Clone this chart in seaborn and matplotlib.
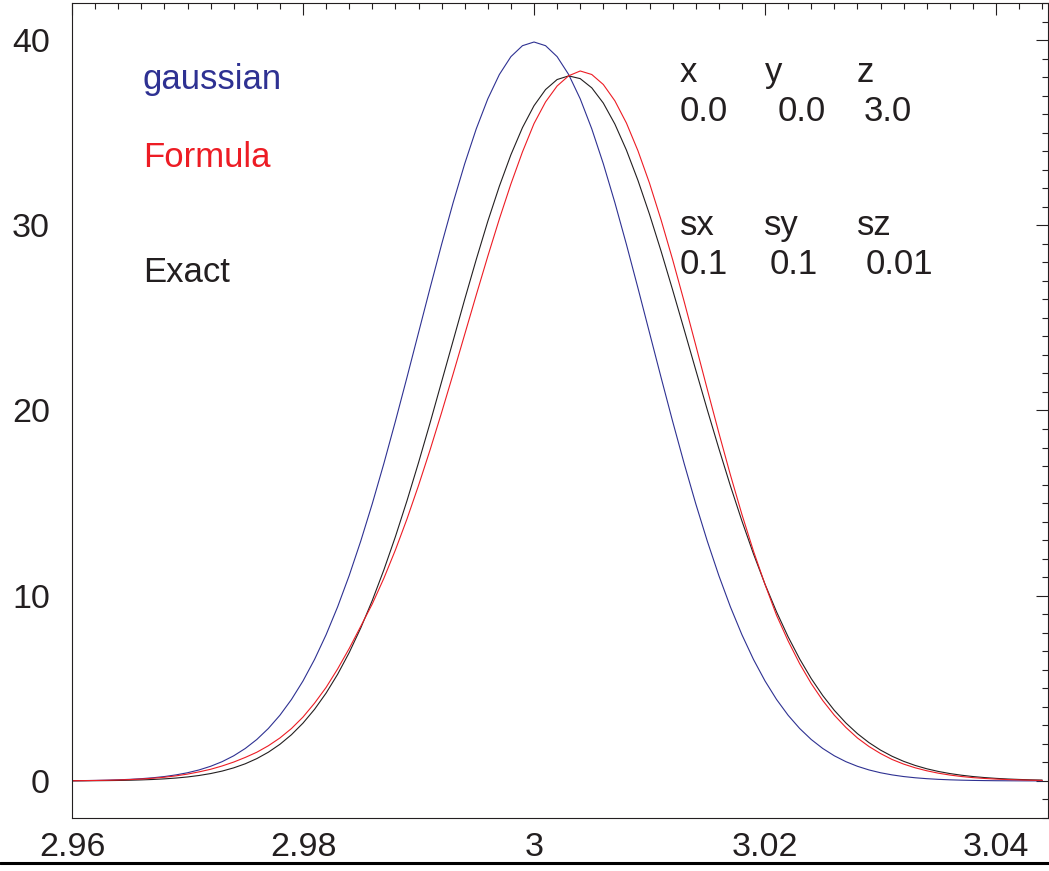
import matplotlib
matplotlib.use("Agg")
import matplotlib.pyplot as plt
import seaborn as sns
import pandas as pd
from matplotlib.ticker import FixedLocator, MultipleLocator
from matplotlib.lines import Line2D

# ---------------- data ----------------
x_vals = [2.960, 2.961, 2.962, 2.963, 2.964, 2.965, 2.966, 2.967, 2.968, 2.969,
          2.970, 2.971, 2.972, 2.973, 2.974, 2.975, 2.976, 2.977, 2.978, 2.979,
          2.980, 2.981, 2.982, 2.983, 2.984, 2.985, 2.986, 2.987, 2.988, 2.989,
          2.990, 2.991, 2.992, 2.993, 2.994, 2.995, 2.996, 2.997, 2.998, 2.999,
          3.000, 3.001, 3.002, 3.003, 3.004, 3.005, 3.006, 3.007, 3.008, 3.009,
          3.010, 3.011, 3.012, 3.013, 3.014, 3.015, 3.016, 3.017, 3.018, 3.019,
          3.020, 3.021, 3.022, 3.023, 3.024, 3.025, 3.026, 3.027, 3.028, 3.029,
          3.030, 3.031, 3.032, 3.033, 3.034, 3.035, 3.036, 3.037, 3.038, 3.039,
          3.040, 3.041, 3.042, 3.043, 3.044]

gaussian = [0.013, 0.020, 0.029, 0.043, 0.061, 0.087, 0.123, 0.172, 0.238, 0.327,
            0.443, 0.595, 0.792, 1.042, 1.358, 1.753, 2.239, 2.833, 3.547, 4.398,
            5.399, 6.562, 7.895, 9.405, 11.092, 12.952, 14.973, 17.137, 19.418, 21.785,
            24.197, 26.608, 28.969, 31.225, 33.322, 35.207, 36.827, 38.139, 39.104, 39.695,
            39.894, 39.695, 39.104, 38.139, 36.827, 35.207, 33.322, 31.225, 28.969, 26.608,
            24.197, 21.785, 19.418, 17.137, 14.973, 12.952, 11.092, 9.405, 7.895, 6.562,
            5.399, 4.398, 3.547, 2.833, 2.239, 1.753, 1.358, 1.042, 0.792, 0.595,
            0.443, 0.327, 0.238, 0.172, 0.123, 0.087, 0.061, 0.043, 0.029, 0.020,
            0.013, 0.009, 0.006, 0.004, 0.003]

exact = [0.006, 0.0085, 0.013, 0.019, 0.027, 0.039, 0.057, 0.080, 0.113, 0.157,
         0.216, 0.295, 0.399, 0.533, 0.707, 0.927, 1.206, 1.552, 1.978, 2.497,
         3.123, 3.868, 4.744, 5.762, 6.931, 8.260, 9.747, 11.394, 13.189, 15.125,
         17.182, 19.327, 21.553, 23.774, 26.001, 28.155, 30.217, 32.109, 33.809, 35.272,
         36.455, 37.327, 37.868, 38.065, 37.917, 37.420, 36.597, 35.464, 34.059, 32.421,
         30.590, 28.604, 26.512, 24.364, 22.195, 20.043, 17.953, 15.938, 14.038, 12.260,
         10.621, 9.127, 7.783, 6.586, 5.529, 4.609, 3.812, 3.132, 2.555, 2.070,
         1.666, 1.333, 1.060, 0.838, 0.658, 0.514, 0.400, 0.310, 0.238, 0.183,
         0.140, 0.106, 0.081, 0.061, 0.046]

formula = [0.012, 0.018, 0.026, 0.037, 0.052, 0.074, 0.105, 0.146, 0.20, 0.275,
           0.37, 0.49, 0.63, 0.81, 1.02, 1.27, 1.55, 1.90, 2.32, 2.83,
           3.45, 4.20, 5.05, 6.05, 7.15, 8.35, 9.56, 10.94, 12.47, 14.14,
           15.95, 17.87, 19.89, 21.98, 24.11, 26.24, 28.33, 30.34, 32.23, 33.96,
           35.49, 36.66, 37.52, 38.07, 38.33, 38.14, 37.60, 36.72, 35.52, 34.02,
           32.27, 30.29, 28.15, 25.88, 23.53, 21.15, 18.80, 16.53, 14.39, 12.41,
           10.61, 8.94, 7.56, 6.33, 5.26, 4.34, 3.55, 2.89, 2.32, 1.86,
           1.48, 1.16, 0.91, 0.71, 0.55, 0.42, 0.32, 0.24, 0.18, 0.135,
           0.10, 0.075, 0.057, 0.042, 0.031]

xtick_vals = [2.96, 2.98, 3.00, 3.02, 3.04]
xtick_labels = ["2.96", "2.98", "3", "3.02", "3.04"]
ytick_vals = [0, 10, 20, 30, 40]
ytick_labels = ["0", "10", "20", "30", "40"]

left_labels = ["gaussian", "Formula", "Exact"]
param_rows = [["x", "y", "z"], ["0.0", "0.0", "3.0"], ["sx", "sy", "sz"], ["0.1", "0.1", "0.01"]]

# ---------------- style ----------------
sns.set_theme(style="white")
plt.rcParams["font.family"] = ["Liberation Sans", "DejaVu Sans"]

C_BLUE = "#2E3192"
C_RED = "#ED1C24"
C_BLACK = "#231F20"

W, H = 1049, 871
fig = plt.figure(figsize=(W / 100, H / 100), dpi=100)
fig.patch.set_facecolor("white")
ax = fig.add_axes([72 / W, 1 - 818 / H, 976 / W, 815 / H])
ax.set_facecolor("white")

df = pd.concat([
    pd.DataFrame({"x": x_vals, "y": gaussian, "curve": "gaussian"}),
    pd.DataFrame({"x": x_vals, "y": exact, "curve": "Exact"}),
    pd.DataFrame({"x": x_vals, "y": formula, "curve": "Formula"}),
], ignore_index=True)

sns.lineplot(data=df, x="x", y="y", hue="curve",
             hue_order=["gaussian", "Exact", "Formula"],
             palette={"gaussian": C_BLUE, "Exact": C_BLACK, "Formula": C_RED},
             linewidth=0.8, legend=False, errorbar=None, ax=ax)

ax.set_xlim(2.96, 3.0445)
ax.set_ylim(-2, 42)
ax.set_xlabel("")
ax.set_ylabel("")

ax.xaxis.set_major_locator(FixedLocator(xtick_vals))
ax.set_xticklabels(xtick_labels)
ax.xaxis.set_minor_locator(MultipleLocator(0.002))
ax.yaxis.set_major_locator(FixedLocator(ytick_vals))
ax.set_yticklabels(ytick_labels)
ax.yaxis.set_minor_locator(MultipleLocator(1))

ax.tick_params(which="both", direction="in", top=True, right=True,
               color=C_BLACK, width=0.8, labelcolor=C_BLACK)
ax.tick_params(which="major", length=8.6, labelsize=24.5)
ax.tick_params(which="minor", length=4.3)
ax.tick_params(axis="x", which="major", pad=10)
ax.tick_params(axis="y", which="major", pad=16)

for sp in ax.spines.values():
    sp.set_visible(True)
    sp.set_color(C_BLACK)
    sp.set_linewidth(0.8)

# ---------------- annotations ----------------
def ftext(px, py, s, color=C_BLACK, size=25):
    fig.text(px / W, 1 - py / H, s, color=color, fontsize=size,
             ha="left", va="baseline")

left_colors = [C_BLUE, C_RED, C_BLACK]
left_base = [89, 167, 282]
for s, c, b in zip(left_labels, left_colors, left_base):
    ftext(143, b, s, c)

row_base = [82, 121, 235, 274]
row_x = [[680, 765, 857], [680, 778, 864], [680, 764, 857], [680, 770, 866]]
for toks, b, xs in zip(param_rows, row_base, row_x):
    for t, px in zip(toks, xs):
        ftext(px, b, t)

# bottom rule of the page
fig.add_artist(Line2D([0, 1], [1 - 862.5 / H] * 2, transform=fig.transFigure,
                      color="black", linewidth=2.2, zorder=20))

fig.savefig("out.png", dpi=100)
